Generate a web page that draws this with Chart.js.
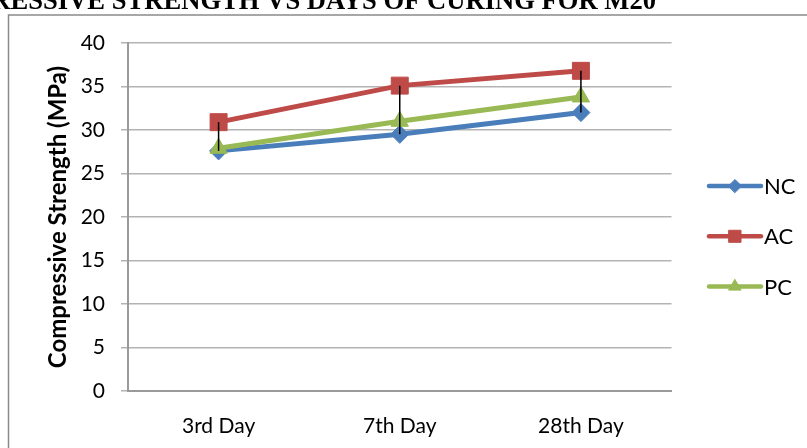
<!DOCTYPE html>
<html>
<head>
<meta charset="utf-8">
<script src="https://cdn.jsdelivr.net/npm/chart.js@4/dist/chart.umd.min.js"></script>
<style>
  html, body { margin: 0; padding: 0; background: #fff; }
  #wrap { position: relative; width: 807px; height: 448px; }
</style>
</head>
<body>
<div id="wrap"><canvas id="chart" role="img" aria-label="Compressive strength vs days of curing for M20"></canvas></div>
<script>
// данные
const categories = ['3rd Day', '7th Day', '28th Day'];
const seriesNames = ['NC', 'AC', 'PC'];
const ncValues = [27.6, 29.5, 32.0];
const acValues = [30.9, 35.1, 36.8];
const pcValues = [27.9, 31.0, 33.8];
const yTicks = [0, 5, 10, 15, 20, 25, 30, 35, 40];
const titleText = 'COMPRESSIVE STRENGTH VS DAYS OF CURING FOR M20';
const yTitle = 'Compressive Strength (MPa)';

const colors = ['#4A7EBB', '#BE4B48', '#98B954'];
const markers = ['rectRot', 'rect', 'triangle'];
const markerSize = [9, 12, 10];
const legendMarkerSize = [6.5, 8.5, 7];
const FONT = 'Lato, "Open Sans", sans-serif';

// рамка и обрезанный заголовок сверху
const framePlugin = {
  id: 'frame',
  beforeDraw(chart) {
    const ctx = chart.ctx;
    ctx.save();
    ctx.fillStyle = '#fff';
    ctx.fillRect(0, 0, chart.width, chart.height);
    ctx.strokeStyle = '#8a8a8a';
    ctx.lineWidth = 1.5;
    ctx.beginPath();
    ctx.moveTo(8.5, chart.height);
    ctx.lineTo(8.5, 15);
    ctx.lineTo(chart.width, 15);
    ctx.stroke();
    ctx.fillStyle = '#000';
    ctx.font = 'bold 26.6px "Liberation Serif", "Times New Roman", serif';
    ctx.textAlign = 'right';
    ctx.textBaseline = 'alphabetic';
    ctx.fillText(titleText, 656, 8.5);
    ctx.restore();
  }
};

// линии max-min (как High-Low Lines в Excel)
const highLowPlugin = {
  id: 'highLow',
  afterDatasetsDraw(chart) {
    const ctx = chart.ctx;
    const xs = chart.scales.x, ys = chart.scales.y;
    ctx.save();
    ctx.strokeStyle = '#000';
    ctx.lineWidth = 1.5;
    categories.forEach((c, i) => {
      const vals = chart.data.datasets.map(d => d.data[i]);
      const x = xs.getPixelForValue(i);
      ctx.beginPath();
      ctx.moveTo(x, ys.getPixelForValue(Math.max(...vals)));
      ctx.lineTo(x, ys.getPixelForValue(Math.min(...vals)));
      ctx.stroke();
    });
    ctx.restore();
  }
};

// легенда справа: линия + маркер
const legendPlugin = {
  id: 'sideLegend',
  afterDraw(chart) {
    const ctx = chart.ctx;
    ctx.save();
    seriesNames.forEach((name, i) => {
      const y = 186 + i * 50.3;
      ctx.strokeStyle = colors[i];
      ctx.lineWidth = 4.5;
      ctx.lineCap = 'round';
      ctx.beginPath();
      ctx.moveTo(709, y);
      ctx.lineTo(761, y);
      ctx.stroke();
      ctx.fillStyle = colors[i];
      ctx.lineWidth = 1;
      Chart.helpers.drawPoint(ctx, {
        pointStyle: markers[i], radius: legendMarkerSize[i], rotation: 0, borderWidth: 1
      }, 735, y);
      ctx.fillStyle = '#000';
      ctx.font = '22px ' + FONT;
      ctx.textAlign = 'left';
      ctx.textBaseline = 'middle';
      ctx.fillText(name, 764, y + 1);
    });
    ctx.restore();
  }
};

const allSeries = [ncValues, acValues, pcValues];

new Chart(document.getElementById('chart'), {
  type: 'line',
  data: {
    labels: categories,
    datasets: seriesNames.map((name, i) => ({
      label: name,
      data: allSeries[i],
      borderColor: colors[i],
      backgroundColor: colors[i],
      borderWidth: 5,
      pointStyle: markers[i],
      pointRadius: markerSize[i],
      pointBorderWidth: 1,
      pointBorderColor: colors[i],
      pointBackgroundColor: colors[i],
      order: 2 - i,
      tension: 0
    }))
  },
  options: {
    responsive: true,
    maintainAspectRatio: false,
    animation: false,
    events: [],
    layout: { padding: { left: 0, top: 43, right: 135.5, bottom: 0 } },
    plugins: {
      legend: { display: false },
      tooltip: { enabled: false }
    },
    scales: {
      x: {
        type: 'category',
        offset: true,
        grid: { display: false },
        border: { display: true, color: '#9a9a9a', width: 2 },
        ticks: { color: '#000', font: { family: FONT, size: 21 }, padding: 15 },
        afterFit(s) { s.height = 57; }
      },
      y: {
        min: 0,
        max: 40,
        afterBuildTicks(s) { s.ticks = yTicks.map(v => ({ value: v })); },
        grid: { color: '#b3b3b3', lineWidth: 1.5, tickLength: 7 },
        border: { display: true, color: '#9a9a9a', width: 2 },
        ticks: { color: '#000', font: { family: FONT, size: 21 }, padding: 16 },
        title: {
          display: true,
          text: yTitle,
          color: '#000',
          font: { family: FONT, size: 24, weight: 'bold' },
          padding: { top: 44, bottom: 0 }
        },
        afterFit(s) { s.width = 128; }
      }
    }
  },
  plugins: [framePlugin, highLowPlugin, legendPlugin]
});
</script>
</body>
</html>
